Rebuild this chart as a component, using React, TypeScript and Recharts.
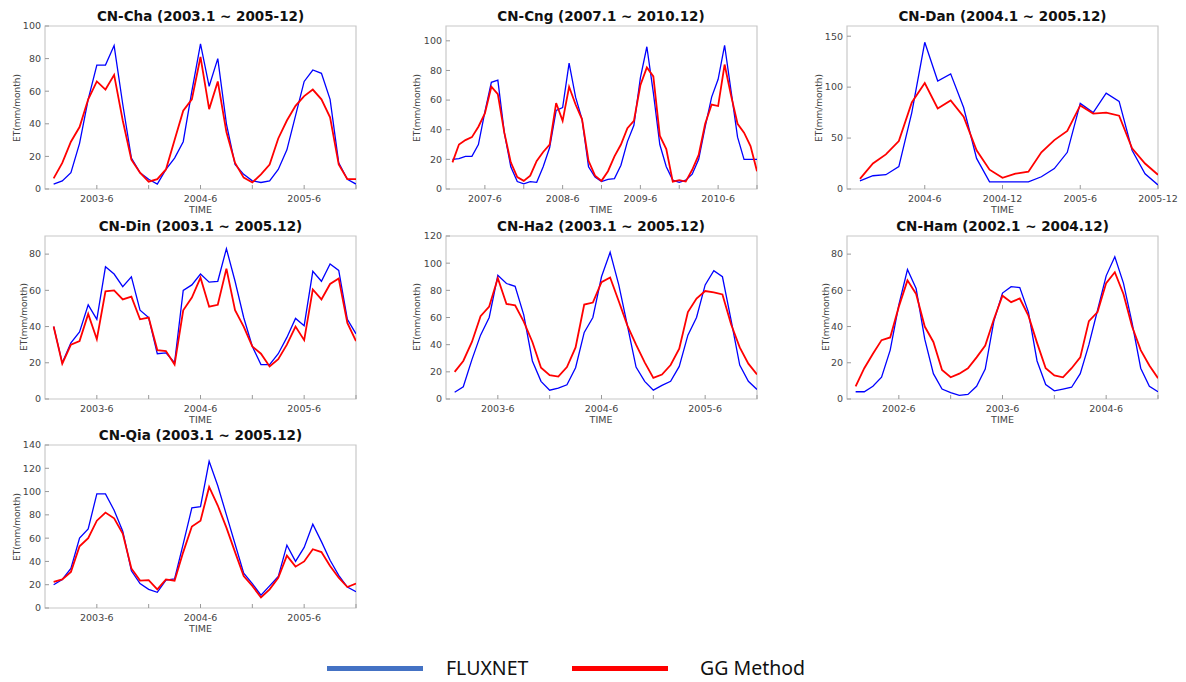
import React from 'react';
import { LineChart, Line, XAxis, YAxis, ReferenceArea } from 'recharts';

// ---------- data (monthly ET, mm/month) ----------
const chaFlux = [3, 5, 10, 28, 55, 76, 76, 88, 52, 19, 10, 6, 3, 12, 19, 29, 60, 89, 63, 80, 40, 15, 9, 5, 4, 5, 12, 24, 45, 66, 73, 71, 55, 16, 6, 3];
const chaGG = [6.5, 16, 29, 38, 55, 66, 61, 70, 42, 18, 10, 4.5, 6, 12, 30, 48, 55, 81, 49, 66, 35, 16, 7, 4, 9, 15, 31, 42, 51, 57, 61, 55, 44, 15, 6, 6];

const cngFlux = [20, 20.5, 22, 22, 30, 52, 72, 73.5, 38, 15, 5, 3.5, 5, 4.5, 15, 28, 53, 55, 85, 62, 47, 15, 8, 5, 6.5, 7, 16, 32, 43, 75, 96, 65, 30, 15, 6, 4.5, 6, 10, 20, 42, 62, 74, 97, 66, 35, 20, 20, 20];
const cngGG = [18, 30, 33, 35, 42, 51, 69, 64, 38, 18, 8, 5.5, 9, 19, 25, 30, 58, 46, 69, 57, 47, 19, 9, 5.5, 12, 22, 30, 41, 46, 70, 82, 76, 36, 27, 5, 6, 5, 13, 23, 44, 57, 56, 84, 63, 44, 38, 29, 12];

const danFlux = [8, 13, 14, 22, 75, 144, 106, 113, 80, 30, 7, 7, 7, 7, 12, 20, 36, 84, 75, 94, 86, 38, 15, 4];
const danGG = [10, 25, 34, 47, 85, 104, 79, 87, 71, 38, 19, 11, 15, 17, 36, 48, 57, 82, 74, 75, 72, 40, 25, 14];

const dinFlux = [40, 20, 31, 37, 52, 44, 73, 69, 62, 67.5, 49, 45, 25, 25.5, 20, 60, 63, 69, 64.5, 65, 83, 65, 45, 29, 19, 19, 25, 34, 44.5, 40.5, 70.5, 65, 74.5, 71, 44, 36];
const dinGG = [40, 19.5, 30, 32, 47, 33, 59.5, 60, 55, 56.5, 44, 45, 27, 26.5, 19, 49, 56, 67, 51, 52, 72, 49, 40, 29, 25, 18, 22, 30, 40, 32.5, 60.5, 55, 63.5, 66.5, 42, 32];

const ha2Flux = [5, 9, 29, 47, 60, 91, 85, 83, 62, 28, 13, 6.5, 8, 10.5, 23, 49, 60, 90, 108, 84, 54, 23.5, 13, 6.5, 10, 13, 24, 47, 60, 84, 94.5, 90, 58, 25, 13, 7];
const ha2GG = [20, 28, 42, 61, 68, 89, 70, 69, 57, 42, 23, 17.5, 16.5, 23.5, 38, 69.5, 71, 86, 89.5, 72, 54, 40, 27, 15.5, 18, 25, 37, 64, 74, 79.5, 78.5, 77, 55, 38, 26, 18];

const hamFlux = [4, 4, 7, 12, 27, 52, 71.5, 61, 33, 14, 5.5, 3.5, 2, 2.5, 7, 16.5, 43, 58.5, 62, 61.5, 48, 21, 8, 4.5, 5.5, 6.5, 14, 30, 49, 68, 78.5, 64, 42, 17, 7, 4];
const hamGG = [7, 17, 25, 32.5, 34, 51, 65.5, 58, 40, 31.5, 16, 12, 14, 17, 23, 29.5, 44, 57, 53.5, 55.5, 46, 31, 17, 13, 12, 17, 23, 43, 48, 64, 70, 58, 40, 27, 18.5, 11.5];

const qiaFlux = [20, 24.5, 34, 60, 68, 98, 98, 84, 66, 32, 21, 16, 13.5, 24, 25, 55, 86, 87, 126, 105, 80, 55, 30, 21, 11, 19, 27, 54, 40, 52, 72, 57, 41, 28, 18, 14];
const qiaGG = [22.5, 24.5, 31, 53, 60, 75, 82, 77, 64, 34, 23.5, 24, 16, 24.5, 23.5, 48, 70, 75, 104, 88, 69, 48, 27.5, 19, 9, 16, 26, 45, 35.5, 40, 50.5, 48, 36, 26, 18, 21];

// tick positions (month index) and labels
const ticks36 = [5, 11, 17, 23, 29, 35];
const chaLabels = ['2003-6', '', '2004-6', '', '2005-6', ''];
const hamLabels = ['2002-6', '', '2003-6', '', '2004-6', ''];
const ticks48 = [5, 11, 17, 23, 29, 35, 41, 47];
const cngLabels = ['2007-6', '', '2008-6', '', '2009-6', '', '2010-6', ''];
const ticks24 = [5, 11, 17, 23];
const danLabels = ['2004-6', '2004-12', '2005-6', '2005-12'];

const y100 = [0, 20, 40, 60, 80, 100];
const y110 = [0, 20, 40, 60, 80, 100];
const y160 = [0, 50, 100, 150];
const y90 = [0, 20, 40, 60, 80];
const y120 = [0, 20, 40, 60, 80, 100, 120];
const y140 = [0, 20, 40, 60, 80, 100, 120, 140];

const titles = [
  'CN-Cha (2003.1 ~ 2005-12)',
  'CN-Cng (2007.1 ~ 2010.12)',
  'CN-Dan (2004.1 ~ 2005.12)',
  'CN-Din (2003.1 ~ 2005.12)',
  'CN-Ha2 (2003.1 ~ 2005.12)',
  'CN-Ham (2002.1 ~ 2004.12)',
  'CN-Qia (2003.1 ~ 2005.12)',
];

const PW = 311;
const PH = 163;
const RM = 24;
const COLS = [45, 445.5, 847];
const ROWS = [26, 235.5, 445];

const tickFont = { fontSize: 9.5, fill: '#444', fontFamily: 'DejaVu Sans' };
const blank = () => '';

function Panel(props: {
  x0: number; y0: number; title: string; flux: number[]; gg: number[];
  yMax: number; yTicks: number[]; xTicks: number[]; xLabels: string[];
}) {
  const { x0, y0, title, flux, gg, yMax, yTicks, xTicks, xLabels } = props;
  const n = flux.length;
  const data = flux.map((v, i) => ({ i, flux: v, gg: gg[i] }));
  const fmt = (v: number) => {
    const k = xTicks.indexOf(v);
    return k >= 0 ? xLabels[k] : '';
  };
  const digits = String(yTicks[yTicks.length - 1]).length;
  const off = 8 + digits * 7;
  return (
    <>
      <div style={{ position: 'absolute', left: x0, top: y0 - 17, width: PW, textAlign: 'center',
        fontFamily: 'DejaVu Sans', fontWeight: 'bold', fontSize: 13.5, lineHeight: '14px', color: '#111', whiteSpace: 'nowrap' }}>
        {title}
      </div>
      <div style={{ position: 'absolute', left: x0 - 45, top: y0 - 26 }}>
        <LineChart width={45 + PW + RM} height={26 + PH + 26} data={data}
          margin={{ top: 26, right: RM, bottom: 0, left: 0 }}>
          <XAxis dataKey="i" type="number" domain={[-1, n - 1]} ticks={xTicks} tickFormatter={fmt}
            height={26} axisLine={false} tickSize={-4} tickMargin={10} tick={tickFont}
            tickLine={{ stroke: '#999' }} allowDataOverflow interval={0} />
          <XAxis xAxisId="top" orientation="top" dataKey="i" type="number" domain={[-1, n - 1]} ticks={xTicks}
            tickFormatter={blank} height={0} axisLine={false} tickSize={-4} tickMargin={0} tick={tickFont}
            tickLine={{ stroke: '#999' }} allowDataOverflow interval={0} />
          <YAxis type="number" domain={[0, yMax]} ticks={yTicks} width={45} axisLine={false}
            tickSize={-4} tickMargin={8} tick={tickFont} tickLine={{ stroke: '#999' }} allowDataOverflow interval={0} />
          <YAxis yAxisId="r" orientation="right" type="number" domain={[0, yMax]} ticks={yTicks} width={0} axisLine={false}
            tickSize={-4} tickMargin={0} tick={tickFont} tickFormatter={blank} tickLine={{ stroke: '#999' }} allowDataOverflow interval={0} />
          <ReferenceArea x1={-1} x2={n - 1} y1={0} y2={yMax} fill="none" fillOpacity={0}
            stroke="#c8c8c8" strokeWidth={1.2} ifOverflow="visible" />
          <Line type="linear" dataKey="flux" stroke="#0000ff" strokeWidth={1.3} dot={false} isAnimationActive={false} />
          <Line type="linear" dataKey="gg" stroke="#ff0000" strokeWidth={1.8} dot={false} isAnimationActive={false} />
        </LineChart>
      </div>
      <div style={{ position: 'absolute', left: x0, top: y0 + PH + 14, width: PW, textAlign: 'center',
        fontFamily: 'DejaVu Sans', fontSize: 9.5, lineHeight: '14px', color: '#444' }}>
        TIME
      </div>
      <div style={{ position: 'absolute', left: x0 - off - PH / 2, top: y0 + PH / 2 - 7, width: PH, height: 14,
        textAlign: 'center', fontFamily: 'DejaVu Sans', fontSize: 9, lineHeight: '14px', color: '#444',
        transform: 'rotate(-90deg)' }}>
        ET(mm/month)
      </div>
    </>
  );
}

export default function App() {
  return (
    <div style={{ position: 'absolute', left: 0, top: 0, width: 1186, height: 682, background: '#fff', overflow: 'hidden' }}>
      <Panel x0={COLS[0]} y0={ROWS[0]} title={titles[0]} flux={chaFlux} gg={chaGG} yMax={100} yTicks={y100} xTicks={ticks36} xLabels={chaLabels} />
      <Panel x0={COLS[1]} y0={ROWS[0]} title={titles[1]} flux={cngFlux} gg={cngGG} yMax={110} yTicks={y110} xTicks={ticks48} xLabels={cngLabels} />
      <Panel x0={COLS[2]} y0={ROWS[0]} title={titles[2]} flux={danFlux} gg={danGG} yMax={160} yTicks={y160} xTicks={ticks24} xLabels={danLabels} />
      <Panel x0={COLS[0]} y0={ROWS[1]} title={titles[3]} flux={dinFlux} gg={dinGG} yMax={90} yTicks={y90} xTicks={ticks36} xLabels={chaLabels} />
      <Panel x0={COLS[1]} y0={ROWS[1]} title={titles[4]} flux={ha2Flux} gg={ha2GG} yMax={120} yTicks={y120} xTicks={ticks36} xLabels={chaLabels} />
      <Panel x0={COLS[2]} y0={ROWS[1]} title={titles[5]} flux={hamFlux} gg={hamGG} yMax={90} yTicks={y90} xTicks={ticks36} xLabels={hamLabels} />
      <Panel x0={COLS[0]} y0={ROWS[2]} title={titles[6]} flux={qiaFlux} gg={qiaGG} yMax={140} yTicks={y140} xTicks={ticks36} xLabels={chaLabels} />

      {/* legend */}
      <div style={{ position: 'absolute', left: 327, top: 665.5, width: 96, height: 5, background: '#4472C4' }} />
      <div style={{ position: 'absolute', left: 446, top: 655, fontFamily: '"Noto Sans"', fontSize: 19.5, lineHeight: '26px', color: '#111' }}>FLUXNET</div>
      <div style={{ position: 'absolute', left: 572, top: 665.5, width: 96, height: 5, background: '#ff0000' }} />
      <div style={{ position: 'absolute', left: 700, top: 655, fontFamily: '"Noto Sans"', fontSize: 19.5, lineHeight: '26px', color: '#111' }}>GG Method</div>
    </div>
  );
}
